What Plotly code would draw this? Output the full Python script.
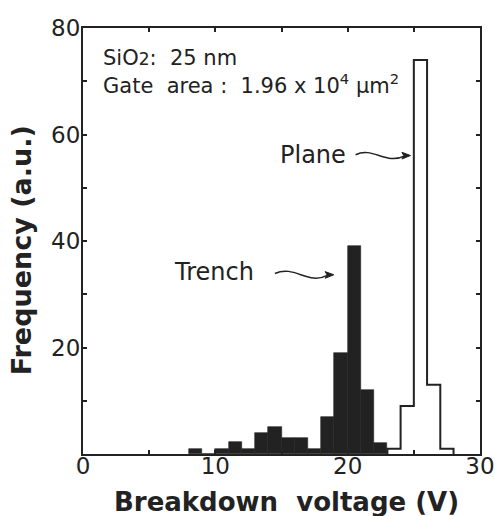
import plotly.graph_objects as go

# ---- data (bin left edges in V, frequency in a.u.) ----
trench_bins = [8, 9, 10, 11, 12, 13, 14, 15, 16, 17, 18, 19, 20, 21, 22]
trench_freq = [1, 0, 1, 2.2, 1, 4, 5, 3, 3, 1, 7, 19, 39, 12, 2]

plane_bins = [23, 24, 25, 26, 27]
plane_freq = [1, 9, 74, 13, 1]

x_tick_vals = [0, 5, 10, 15, 20, 25, 30]
x_tick_text = ["0", "", "10", "", "20", "", "30"]
y_tick_vals = [0, 10, 20, 30, 40, 50, 60, 70, 80]
y_tick_text = ["", "", "20", "", "40", "", "60", "", "80"]

FONT = "DejaVu Sans"
INK = "#222222"

fig = go.Figure()

# Plane: step outline
px = [plane_bins[0]] + plane_bins + [plane_bins[-1] + 1]
py = [0] + plane_freq + [0]
fig.add_trace(go.Scatter(
    x=px, y=py, mode="lines", line=dict(shape="hv", color=INK, width=2),
    hoverinfo="skip", showlegend=False,
))

# Trench: filled bars
fig.add_trace(go.Bar(
    x=trench_bins, y=trench_freq, width=1, offset=0,
    marker=dict(color=INK, line=dict(color=INK, width=0.6)),
    showlegend=False,
))

fig.update_layout(
    width=495, height=516,
    margin=dict(l=83, r=15, t=28, b=62, autoexpand=False),
    paper_bgcolor="white", plot_bgcolor="white",
    bargap=0,
    font=dict(family=FONT, color=INK),
)

fig.update_xaxes(
    range=[0, 30], tickvals=x_tick_vals, ticktext=x_tick_text,
    ticks="inside", ticklen=4, tickwidth=1.5, tickcolor=INK,
    showline=True, linewidth=2, linecolor=INK, mirror="ticks",
    showgrid=False, zeroline=False, automargin=False,
    ticklabelstandoff=-10,
    tickfont=dict(size=23, family=FONT, color=INK),
)
fig.update_yaxes(
    range=[0, 80], tickvals=y_tick_vals, ticktext=y_tick_text,
    ticks="inside", ticklen=4, tickwidth=1.5, tickcolor=INK,
    showline=True, linewidth=2, linecolor=INK, mirror="ticks",
    showgrid=False, zeroline=False, automargin=False,
    ticklabelstandoff=-4,
    tickfont=dict(size=23, family=FONT, color=INK),
)

# Axis titles
fig.add_annotation(
    text="Breakdown  voltage (V)", xref="paper", yref="paper",
    x=0.512, y=-0.112, xanchor="center", yanchor="middle", showarrow=False,
    font=dict(size=26, family=FONT, color=INK, weight="bold"),
)
fig.add_annotation(
    text="Frequency (a.u.)", xref="paper", yref="paper",
    x=-0.153, y=0.479, xanchor="center", yanchor="middle", showarrow=False,
    textangle=-90,
    font=dict(size=27, family=FONT, color=INK, weight="bold"),
)

# Inset text
fig.add_annotation(
    text="SiO<span style='font-size:17px'>2</span>:  25 nm", xref="paper", yref="paper",
    x=(101 - 83) / 397, y=(454 - 58) / 425.5, xanchor="left", yanchor="middle",
    showarrow=False, font=dict(size=21, family=FONT, color=INK),
)
fig.add_annotation(
    text="Gate  area :  1.96 x 10<sup>4</sup> μm<sup>2</sup>", xref="paper", yref="paper",
    x=(101 - 83) / 397, y=(454 - 84) / 425.5, xanchor="left", yanchor="middle",
    showarrow=False, font=dict(size=21, family=FONT, color=INK),
)

# Labels with wavy arrows
fig.add_annotation(text="Trench", x=9.93, y=34.2, xanchor="center", yanchor="middle",
                   showarrow=False, font=dict(size=24, family=FONT, color=INK))
fig.add_annotation(text="Plane", x=20.0, y=56.2, xanchor="right", yanchor="middle",
                   showarrow=False, font=dict(size=24, family=FONT, color=INK))

fig.add_shape(type="path", path="M 14.5,33.9 C 16.0,35.6 17.0,31.6 18.5,33.6",
              line=dict(color=INK, width=1.5))
fig.add_shape(type="path", path="M 18.95,33.65 L 18.3,34.25 L 18.45,33.6 L 18.3,33.0 Z",
              line=dict(color=INK, width=1), fillcolor=INK)
fig.add_shape(type="path", path="M 20.6,56.2 C 21.9,57.8 22.9,54.2 24.3,56.0",
              line=dict(color=INK, width=1.5))
fig.add_shape(type="path", path="M 24.75,56.05 L 24.1,56.65 L 24.25,56.0 L 24.1,55.4 Z",
              line=dict(color=INK, width=1), fillcolor=INK)

fig.write_html("out.html", config={"displayModeBar": False},
               post_script="document.body.style.margin='0';")
